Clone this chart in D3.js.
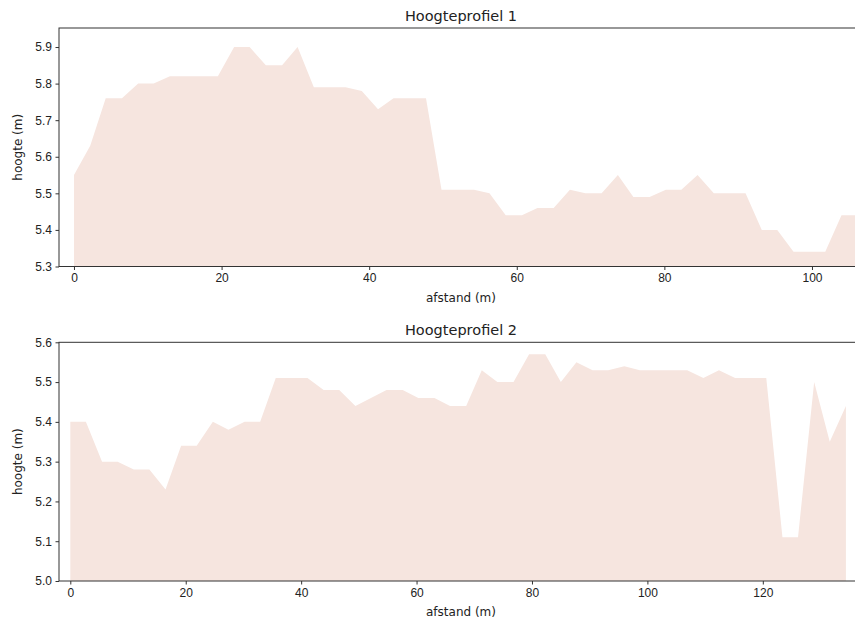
<!DOCTYPE html>
<html>
<head>
<meta charset="utf-8">
<script src="https://cdn.jsdelivr.net/npm/d3@7"></script>
<style>
  body { margin: 0; background: #fff; overflow: hidden; }
  svg { display: block; font-family: "DejaVu Sans", sans-serif; }
  .tick text { font-size: 12px; fill: #222; }
  .tick line { stroke: #333; }
</style>
</head>
<body>
<script>
const width = 855;
const height = 619;
const fillColor = '#f6e5df';

// Hoogteprofiel 1
const afstand1 = [0.0, 2.2, 4.3, 6.5, 8.7, 10.8, 13.0, 15.2, 17.3, 19.5,
  21.7, 23.8, 26.0, 28.2, 30.3, 32.5, 34.7, 36.8, 39.0, 41.2,
  43.3, 45.5, 47.7, 49.8, 52.0, 54.2, 56.3, 58.5, 60.7, 62.8,
  65.0, 67.2, 69.3, 71.5, 73.7, 75.8, 78.0, 80.2, 82.3, 84.5,
  86.7, 88.8, 91.0, 93.2, 95.3, 97.5, 99.7, 101.8, 104.0, 106.2];
const hoogte1 = [5.55, 5.63, 5.76, 5.76, 5.80, 5.80, 5.82, 5.82, 5.82, 5.82,
  5.90, 5.90, 5.85, 5.85, 5.90, 5.79, 5.79, 5.79, 5.78, 5.73,
  5.76, 5.76, 5.76, 5.51, 5.51, 5.51, 5.50, 5.44, 5.44, 5.46,
  5.46, 5.51, 5.50, 5.50, 5.55, 5.49, 5.49, 5.51, 5.51, 5.55,
  5.50, 5.50, 5.50, 5.40, 5.40, 5.34, 5.34, 5.34, 5.44, 5.44];

// Hoogteprofiel 2
const afstand2 = [0.0, 2.7, 5.5, 8.2, 11.0, 13.7, 16.5, 19.2, 21.9, 24.7,
  27.4, 30.2, 32.9, 35.6, 38.4, 41.1, 43.9, 46.6, 49.4, 52.1,
  54.8, 57.6, 60.3, 63.1, 65.8, 68.6, 71.3, 74.0, 76.8, 79.5,
  82.3, 85.0, 87.7, 90.5, 93.2, 96.0, 98.7, 101.5, 104.2, 106.9,
  109.7, 112.4, 115.2, 117.9, 120.6, 123.4, 126.1, 128.9, 131.6, 134.4];
const hoogte2 = [5.40, 5.40, 5.30, 5.30, 5.28, 5.28, 5.23, 5.34, 5.34, 5.40,
  5.38, 5.40, 5.40, 5.51, 5.51, 5.51, 5.48, 5.48, 5.44, 5.46,
  5.48, 5.48, 5.46, 5.46, 5.44, 5.44, 5.53, 5.50, 5.50, 5.57,
  5.57, 5.50, 5.55, 5.53, 5.53, 5.54, 5.53, 5.53, 5.53, 5.53,
  5.51, 5.53, 5.51, 5.51, 5.51, 5.11, 5.11, 5.50, 5.35, 5.44];

const xTicks1 = [0, 20, 40, 60, 80, 100];
const yTicks1 = [5.3, 5.4, 5.5, 5.6, 5.7, 5.8, 5.9];
const xTicks2 = [0, 20, 40, 60, 80, 100, 120];
const yTicks2 = [5.0, 5.1, 5.2, 5.3, 5.4, 5.5, 5.6];

const svg = d3.select("body")
    .append("svg")
    .attr("width", width)
    .attr("height", height);

const panels = [
  { title: 'Hoogteprofiel 1', x: afstand1, y: hoogte1, xTicks: xTicks1, yTicks: yTicks1,
    xDomain: [-2.03, 116.4], yDomain: [5.3, 5.952], top: 28, bottom: 266.5, right: 933 },
  { title: 'Hoogteprofiel 2', x: afstand2, y: hoogte2, xTicks: xTicks2, yTicks: yTicks2,
    xDomain: [-1.96, 141], yDomain: [5.0, 5.6], top: 342.3, bottom: 581, right: 884 }
];

panels.forEach((p, k) => {
  const left = 59;
  const data = p.x.map((d, i) => ({ x: d, y: p.y[i] }));

  let xScale = d3.scaleLinear()
      .domain(p.xDomain)
      .range([left, p.right]);

  let yScale = d3.scaleLinear()
      .domain(p.yDomain)
      .range([p.bottom, p.top]);

  const clipId = 'clip' + k;
  svg.append('clipPath').attr('id', clipId)
    .append('rect')
    .attr('x', left).attr('y', p.top)
    .attr('width', p.right - left).attr('height', p.bottom - p.top);

  let area = d3.area()
      .x(d => xScale(d.x))
      .y0(yScale(p.yDomain[0]))
      .y1(d => yScale(d.y));

  svg.append('path')
    .datum(data)
    .attr('clip-path', `url(#${clipId})`)
    .attr('fill', fillColor)
    .attr('d', area);

  // frame
  svg.append('rect')
    .attr('x', left).attr('y', p.top)
    .attr('width', p.right - left).attr('height', p.bottom - p.top)
    .attr('fill', 'none')
    .attr('stroke', '#333')
    .attr('stroke-width', 1);

  let xAxis = d3.axisBottom(xScale)
      .tickValues(p.xTicks)
      .tickSize(3.5)
      .tickPadding(3.5)
      .tickFormat(d3.format('d'));
  let yAxis = d3.axisLeft(yScale)
      .tickValues(p.yTicks)
      .tickSize(3.5)
      .tickPadding(3.5)
      .tickFormat(d3.format('.1f'));

  svg.append('g')
    .attr('transform', `translate(0, ${p.bottom})`)
    .call(xAxis)
    .call(g => g.select('.domain').remove());

  svg.append('g')
    .attr('transform', `translate(${left}, 0)`)
    .call(yAxis)
    .call(g => g.select('.domain').remove());

  svg.append('text')
    .attr('x', 461)
    .attr('y', p.top - 7)
    .attr('text-anchor', 'middle')
    .attr('font-size', 14.5)
    .attr('fill', '#222')
    .text(p.title);

  svg.append('text')
    .attr('x', 461)
    .attr('y', p.bottom + 35)
    .attr('text-anchor', 'middle')
    .attr('font-size', 12)
    .attr('fill', '#222')
    .text('afstand (m)');

  svg.append('text')
    .attr('transform', `translate(22, ${(p.top + p.bottom) / 2}) rotate(-90)`)
    .attr('text-anchor', 'middle')
    .attr('font-size', 12)
    .attr('fill', '#222')
    .text('hoogte (m)');
});
</script>
</body>
</html>
